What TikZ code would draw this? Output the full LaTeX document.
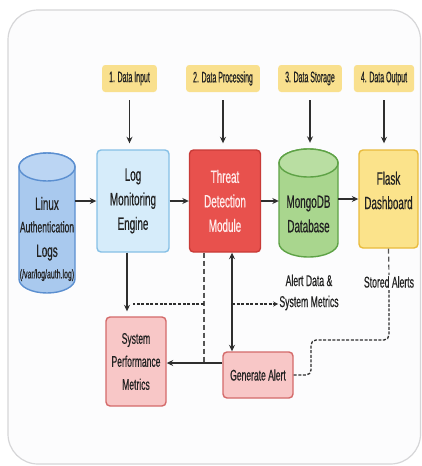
\documentclass[tikz,border=0pt]{standalone}
\usepackage{fontspec}
\setmainfont{Liberation Sans}[FakeStretch=0.555,FakeBold=0.5]
\newfontfamily\labfamily{Liberation Sans}[FakeStretch=0.46,FakeBold=0.5]
\usetikzlibrary{arrows.meta,calc}
\definecolor{framec}{HTML}{D6D6D8}
\definecolor{bgc}{HTML}{FCFCFD}
\definecolor{txtc}{HTML}{222222}
\definecolor{arrc}{HTML}{2E2E2E}
\definecolor{dashc}{HTML}{555555}
\definecolor{linuxfill}{HTML}{A9C9EE}
\definecolor{linuxtop}{HTML}{BBD5F3}
\definecolor{linuxdraw}{HTML}{5B8FD0}
\definecolor{logfill}{HTML}{D6ECFA}
\definecolor{logdraw}{HTML}{86C0E6}
\definecolor{threatfill}{HTML}{E8514D}
\definecolor{threatdraw}{HTML}{C83A37}
\definecolor{threattext}{HTML}{FFECEC}
\definecolor{mongofill}{HTML}{A9D68E}
\definecolor{mongotop}{HTML}{B9DEA2}
\definecolor{mongodraw}{HTML}{5EA246}
\definecolor{flaskfill}{HTML}{FBE38B}
\definecolor{flaskdraw}{HTML}{E9BB3C}
\definecolor{labfill}{HTML}{F9E08E}
\definecolor{pinkfill}{HTML}{F8C7C7}
\definecolor{pinkdraw}{HTML}{D46A6A}
\newcommand\FBig{\fontsize{17.8}{24.5}\selectfont}
\newcommand\FMid{\fontsize{15.4}{23}\selectfont}
\newcommand\FLab{\labfamily\fontsize{15.2}{16}\selectfont}
\newcommand\FSmall{\fontsize{12.6}{13}\selectfont}
\newcommand\drawcyl[7]{%
  \filldraw[fill=#6, draw=#7, line width=1.4pt]
    (#1-#4,-#2-#5) -- (#1-#4,-#3+#5)
    arc[start angle=180,end angle=360,x radius=#4pt,y radius=#5pt]
    -- (#1+#4,-#2-#5)
    arc[start angle=0,end angle=180,x radius=#4pt,y radius=#5pt] -- cycle;
}
\newcommand\drawcyltop[6]{%
  \filldraw[fill=#5, draw=#6, line width=1.4pt] (#1,-#2-#4) ellipse[x radius=#3pt, y radius=#4pt];
}
\begin{document}
\begin{tikzpicture}[x=1pt,y=1pt,
  box/.style={draw, rounded corners=4pt, line width=1.4pt, align=center, text=txtc, font=\FBig, inner sep=0pt},
  txt/.style={align=center, text=txtc, font=\FBig, inner sep=1pt},
  ann/.style={align=center, text=txtc, font=\fontsize{15.6}{21}\selectfont, inner sep=1pt},
  lab/.style={fill=labfill, rounded corners=3pt, minimum height=27pt, inner xsep=7pt, text=txtc, font=\FLab},
  ghost/.style={inner sep=0pt},
  arr/.style={draw=arrc, line width=1.3pt, -{Stealth[length=6.5pt,width=6pt]}},
  barr/.style={draw=arrc, line width=1.3pt, {Stealth[length=6.5pt,width=6pt]}-{Stealth[length=6.5pt,width=6pt]}},
  dshort/.style={draw=arrc, line width=1.3pt, dash pattern=on 3pt off 1.6pt},
  dlong/.style={draw=dashc, line width=1.2pt, dash pattern=on 5pt off 3pt},
]
\useasboundingbox (0,0) rectangle (422,-466);
\fill[white] (0,0) rectangle (422,-466);
\draw[draw=framec, fill=bgc, line width=1.2pt, rounded corners=30pt] (8,-10) rectangle (420.5,-464);

% labels
\node[lab] (l1) at (129.5,-78.5) {1. Data Input};
\node[lab] (l2) at (223,-78.5) {2. Data Processing};
\node[lab] (l3) at (310,-78.5) {3. Data Storage};
\node[lab] (l4) at (384,-78.5) {4. Data Output};

% linux cylinder
\drawcyl{47}{153}{293}{28}{14}{linuxfill}{linuxdraw}
\drawcyltop{47}{153}{28}{14}{linuxtop}{linuxdraw}
\node[ghost, minimum width=56pt, minimum height=140pt] (linuxcyl) at (47,-223) {};
\node[txt] (linux) at (47,-239) {Linux\\[-2pt]{\FMid Authentication}\\Logs\\[-3pt]{\FSmall (/var/log/auth.log)}};

% log monitoring
\node[box, fill=logfill, draw=logdraw, minimum width=72pt, minimum height=102pt] (log) at (133,-201) {Log\\Monitoring\\Engine};

% threat
\node[box, fill=threatfill, draw=threatdraw, text=threattext, minimum width=71pt, minimum height=102pt] (threat) at (225,-201) {Threat\\Detection\\Module};

% mongo cylinder
\drawcyl{308.5}{149}{257}{29.5}{14}{mongofill}{mongodraw}
\drawcyltop{308.5}{149}{29.5}{14}{mongotop}{mongodraw}
\node[ghost, minimum width=59pt, minimum height=108pt] (mongocyl) at (308.5,-203) {};
\node[txt] (mongo) at (308.5,-214) {MongoDB\\Database};

% flask
\node[box, fill=flaskfill, draw=flaskdraw, minimum width=59pt, minimum height=98pt] (flask) at (388.5,-199) {};
\node[txt] (flasktxt) at (388.5,-190.5) {Flask\\Dashboard};

% bottom boxes
\node[box, fill=pinkfill, draw=pinkdraw, font=\FMid, minimum width=60pt, minimum height=89pt] (sysperf) at (136,-361.5) {System\\Performance\\Metrics};
\node[box, fill=pinkfill, draw=pinkdraw, font=\FMid, minimum width=70pt, minimum height=46pt] (gen) at (258,-375) {Generate Alert};

% annotations
\node[ann] (alertdata) at (309,-292.5) {Alert Data \&\\System Metrics};
\node[ann] (stored) at (389,-282) {Stored Alerts};

% label arrows
\foreach \a/\b in {l1/log, l2/threat, l3/mongocyl, l4/flask}
  \draw[arr, shorten <=8pt, shorten >=6pt] (\a.south) -- (\a.south |- \b.north);

% main flow
\draw[arr] (linuxcyl.east |- log.west) -- (log.west);
\draw[arr] (log.east) -- (threat.west);
\draw[arr] (threat.east) -- (threat.east -| mongocyl.west);
\draw[arr] (mongocyl.east |- flask.west) -- (flask.west);

% lower connectors
\coordinate (gl) at ([yshift=12pt]gen.west);
\draw[arr, shorten >=5pt] ([xshift=-6pt]log.south) -- ([xshift=-6pt]log.south |- sysperf.north);
\draw[arr] (gl) -- (gl -| sysperf.east);
\draw[dlong] ([xshift=-21pt]threat.south) -- ([xshift=-21pt]threat.south |- gl);
\coordinate (h1) at (204,-304);
\coordinate (h2) at (133,-304);
\draw[dshort] (h1) -- (h2);
\draw[barr] ([xshift=7pt]threat.south) -- ([xshift=7pt]threat.south |- gen.north);
\coordinate (h3) at (232,-304);
\draw[dshort, -{Stealth[length=5pt,width=5pt]}] (h3) -- (h3 -| alertdata.west);
\draw[dlong] (flask.south) -- (stored.north);
\coordinate (c1) at (311,-340);
\draw[dshort, rounded corners=5pt] (gen.east) -| (c1) -- (c1 -| stored.south) -- (stored.south);
\end{tikzpicture}
\end{document}
